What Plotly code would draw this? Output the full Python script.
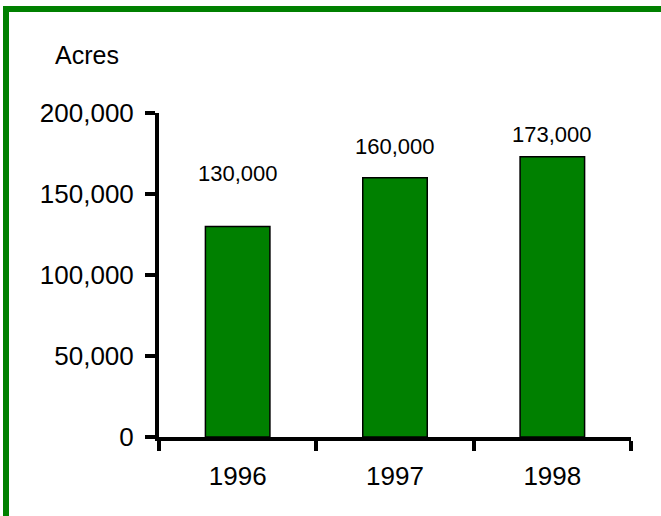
import plotly.graph_objects as go

# Planted area by year
years = ["1996", "1997", "1998"]
acres = [130000, 160000, 173000]
y_ticks = [0, 50000, 100000, 150000, 200000]
y_tick_text = ["0", "50,000", "100,000", "150,000", "200,000"]

# vertical offsets (px) of the value labels above each bar
label_shift = [53, 31, 22]

GREEN = "#008000"
W, H = 661, 516
ML, MR, MT, MB = 159, 30, 113, 79
PW, PH = W - ML - MR, H - MT - MB


def px_x(x):
    return (x - ML) / PW


def px_y(y):
    return (H - MB - y) / PH


fig = go.Figure()
fig.add_trace(go.Bar(
    x=years, y=acres, width=0.41,
    marker=dict(color=GREEN, line=dict(color="black", width=1.5)),
    hoverinfo="skip",
))

# value labels, positioned by category index on the category axis
for i, (v, s) in enumerate(zip(acres, label_shift)):
    fig.add_annotation(
        x=i, y=v, xref="x", yref="y", text=f"{v:,}", showarrow=False,
        yanchor="middle", yshift=s, font=dict(size=22, color="black"),
    )

fig.add_annotation(
    x=px_x(87), y=px_y(55), xref="paper", yref="paper", text="Acres",
    showarrow=False, xanchor="center", yanchor="middle",
    font=dict(size=25, color="black"),
)

# green frame along the top and left edges
fig.add_shape(type="rect", xref="paper", yref="paper",
              x0=px_x(3), x1=px_x(9), y0=px_y(H + 5), y1=px_y(6),
              fillcolor=GREEN, line=dict(width=0), layer="above")
fig.add_shape(type="rect", xref="paper", yref="paper",
              x0=px_x(3), x1=px_x(W + 5), y0=px_y(12), y1=px_y(6),
              fillcolor=GREEN, line=dict(width=0), layer="above")

fig.update_layout(
    width=W, height=H,
    margin=dict(l=ML, r=MR, t=MT, b=MB),
    paper_bgcolor="white", plot_bgcolor="white",
    font=dict(family="Liberation Sans, Arial, sans-serif", color="black"),
    showlegend=False, bargap=0.59,
    xaxis=dict(
        type="category", range=[-0.5, 2.5], tickson="boundaries",
        ticks="outside", ticklen=10, tickwidth=3.5, tickcolor="black",
        showline=True, linecolor="black", linewidth=4,
        showgrid=False, zeroline=False, tickfont=dict(size=26),
        ticklabelstandoff=13,
    ),
    yaxis=dict(
        range=[0, 200000], tickvals=y_ticks, ticktext=y_tick_text,
        ticks="outside", ticklen=10, tickwidth=3.5, tickcolor="black",
        showline=True, linecolor="black", linewidth=4,
        showgrid=False, zeroline=False, tickfont=dict(size=26),
        ticklabelstandoff=6,
    ),
)

fig.write_html("out.html")
